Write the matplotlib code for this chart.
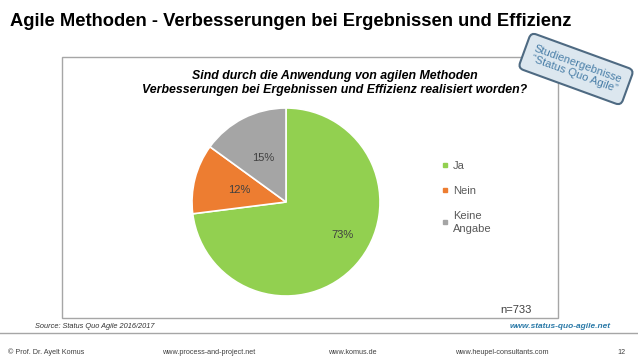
import matplotlib.pyplot as plt
from matplotlib.patches import Rectangle
from matplotlib.lines import Line2D
import numpy as np

# Daten
categories = ["Ja", "Nein", "Keine Angabe"]
shares = [73, 12, 15]
colors = ["#92D050", "#ED7D31", "#A5A5A5"]
n_text = "n=733"

title = "Agile Methoden - Verbesserungen bei Ergebnissen und Effizienz"
chart_title = ("Sind durch die Anwendung von agilen Methoden\n"
               "Verbesserungen bei Ergebnissen und Effizienz realisiert worden?")
footer = ["\u00a9 Prof. Dr. Ayelt Komus", "www.process-and-project.net",
          "www.komus.de", "www.heupel-consultants.com", "12"]

W, H = 638, 359
plt.rcParams['font.family'] = ['Liberation Sans', 'DejaVu Sans']

fig = plt.figure(figsize=(W / 100, H / 100), dpi=100)
fig.patch.set_facecolor("white")

def fx(px):
    return px / W

def fy(py):
    return 1 - py / H

# Haupttitel
fig.text(fx(10), fy(21), title, fontsize=13.2, fontweight="bold",
         color="black", va="center", ha="left")

# Rahmen des Diagramms
fig.patches.append(Rectangle((fx(62), fy(318)), fx(558) - fx(62), fy(57) - fy(318),
                             transform=fig.transFigure, fill=False,
                             edgecolor="#A6A6A6", linewidth=1))

fig.text(fx(335), fy(83), chart_title, fontsize=8.9, fontweight="bold",
         fontstyle="italic", ha="center", va="center", linespacing=1.3)

# Kreisdiagramm
cx, cy, r = 286, 202, 94
ax = fig.add_axes([fx(cx - r), fy(cy + r), fx(2 * r), fy(cy - r) - fy(cy + r)])
wedges, _ = ax.pie(shares, colors=colors, startangle=90, counterclock=False,
                   wedgeprops=dict(edgecolor="white", linewidth=1.2))
ax.set_xlim(-1, 1)
ax.set_ylim(-1, 1)
ax.set_aspect("equal")
ax.axis("off")

label_dist = [0.70, 0.51, 0.53]
label_shift = [11, 0, 0]
for w, s, d, sh in zip(wedges, shares, label_dist, label_shift):
    ang = np.deg2rad((w.theta1 + w.theta2) / 2 + sh)
    ax.text(d * np.cos(ang), d * np.sin(ang), f"{s}%", ha="center", va="center",
            fontsize=8, color="#404040")

handles = [Line2D([], [], marker="s", linestyle="", markersize=3.2,
                  markerfacecolor=c, markeredgecolor=c) for c in colors]
legend_labels = [c.replace(" ", "\n") for c in categories]
leg = fig.legend(handles, legend_labels, loc="upper left",
                 bbox_to_anchor=(fx(436), fy(155)), frameon=False, fontsize=8,
                 labelcolor="#595959", handlelength=0.6, handletextpad=0.4,
                 labelspacing=1.35, borderpad=0)
for t in leg.get_texts():
    t.set_linespacing(1.4)

fig.text(fx(500), fy(310), n_text, fontsize=8, color="#404040",
         ha="left", va="center")

# Stempel
fig.text(fx(576), fy(69), "Studienergebnisse\n\u201cStatus Quo Agile\u201d",
         fontsize=8, color="#4A7FA8", rotation=-20, ha="center", va="center",
         rotation_mode="anchor", linespacing=1.15,
         bbox=dict(boxstyle="round,pad=0.75,rounding_size=0.5",
                   facecolor="#DCE7EF", edgecolor="#4E6A82", linewidth=1.5))

# Quelle und Fußzeile
fig.text(fx(35), fy(326), "Source: Status Quo Agile 2016/2017", fontsize=5.3,
         fontstyle="italic", color="#333333", va="center")
fig.text(fx(611), fy(326), "www.status-quo-agile.net", fontsize=6,
         fontstyle="italic", fontweight="bold", color="#2B7AA8",
         ha="right", va="center")

fig.add_artist(Line2D([0, 1], [fy(333), fy(333)], transform=fig.transFigure,
                      color="#A6A6A6", linewidth=1))

footer_x = [8, 162, 328, 455, 617]
for x, t in zip(footer_x, footer):
    fig.text(fx(x), fy(352), t, fontsize=5.2, color="#404040", va="center")

fig.savefig("out.png", dpi=100)
